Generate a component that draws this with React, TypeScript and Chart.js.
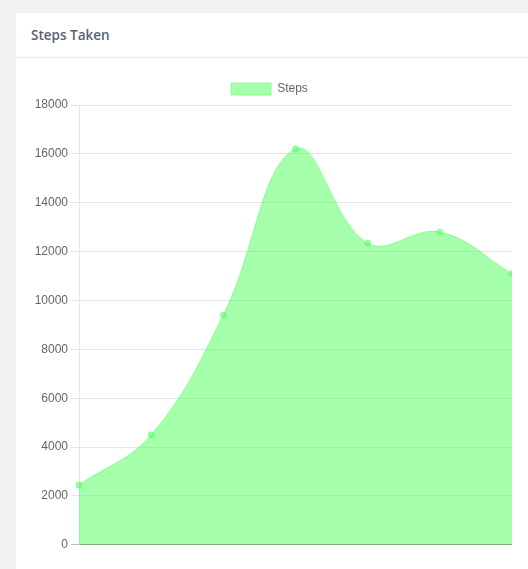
import React, { useEffect, useRef } from "react";
import { Chart, registerables } from "chart.js";

Chart.register(...registerables);

const days = ["Mon", "Tue", "Wed", "Thu", "Fri", "Sat", "Sun"];
const steps = [2450, 4500, 9400, 16200, 12350, 12800, 11100];
const yMin = 0;
const yMax = 18000;
const yStep = 2000;
const seriesLabel = "Steps";
const title = "Steps Taken";

const fill = "rgba(77,255,88,0.5)";

export default function App() {
  const ref = useRef<HTMLCanvasElement | null>(null);

  useEffect(() => {
    if (!ref.current) return;
    Chart.defaults.font.family = "'Helvetica Neue', Helvetica, Arial, sans-serif";
    Chart.defaults.font.size = 12;
    Chart.defaults.color = "#666";
    const chart = new Chart(ref.current, {
      type: "line",
      data: {
        labels: days,
        datasets: [
          {
            label: seriesLabel,
            data: steps,
            backgroundColor: fill,
            borderColor: fill,
            borderWidth: 1,
            pointBackgroundColor: fill,
            pointBorderColor: fill,
            pointRadius: 3,
            pointBorderWidth: 1,
            tension: 0.4,
            fill: "origin",
          },
        ],
      },
      options: {
        animation: false,
        responsive: false,
        devicePixelRatio: 1,
        layout: { padding: 0, autoPadding: false },
        plugins: {
          legend: {
            display: true,
            position: "top",
            labels: { boxWidth: 40, boxHeight: 12, padding: 10, color: "#666" },
          },
          tooltip: { enabled: false },
        },
        scales: {
          x: {
            grid: { display: false },
            border: { display: true, color: "rgba(0,0,0,0.25)" },
            ticks: { display: false },
          },
          y: {
            min: yMin,
            max: yMax,
            ticks: {
              stepSize: yStep,
              color: "#666",
              padding: 3,
              callback: (v: any) => String(v),
            },
            grid: {
              color: (ctx: any) => (ctx.tick && ctx.tick.value === 0 ? "rgba(0,0,0,0.25)" : "rgba(0,0,0,0.1)"),
              tickLength: 8,
            },
            border: { display: true, color: "rgba(0,0,0,0.1)" },
            afterFit: (scale: any) => {
              scale.width = 52;
            },
          },
        },
      },
    });
    return () => chart.destroy();
  }, []);

  return (
    <div
      style={{
        position: "fixed",
        left: 0,
        top: 0,
        width: 528,
        height: 569,
        overflow: "hidden",
        background: "#f1f1f1",
      }}
    >
      <div
        style={{
          position: "absolute",
          left: 16,
          top: 13,
          width: 620,
          height: 700,
          background: "#fff",
        }}
      >
        <div
          style={{
            height: 45,
            borderBottom: "1px solid #ebebeb",
            boxSizing: "border-box",
            paddingLeft: 15,
            display: "flex",
            alignItems: "center",
            fontFamily: "'Open Sans', sans-serif",
            fontWeight: 600,
            fontSize: 13.5,
            color: "#58636e",
          }}
        >
          {title}
        </div>
      </div>
      <canvas
        ref={ref}
        width={485}
        height={482}
        style={{ position: "absolute", left: 27, top: 73, width: 485, height: 482 }}
      />
    </div>
  );
}
